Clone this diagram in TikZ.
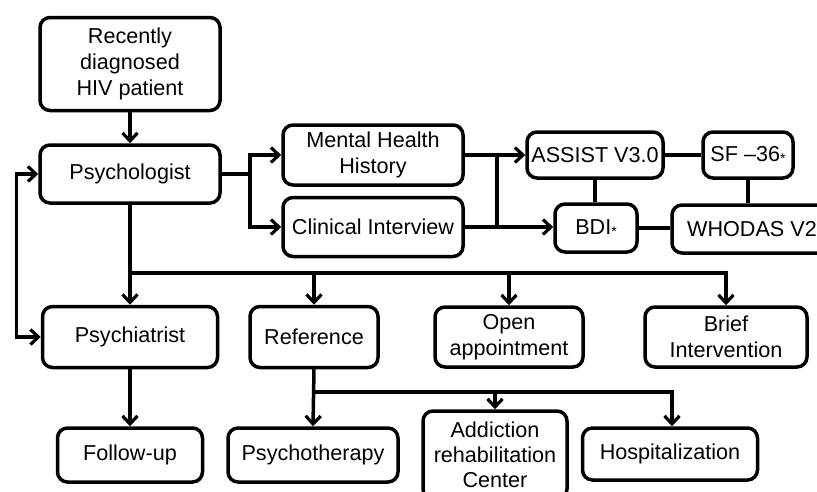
\documentclass[tikz,border=0pt]{standalone}
\usepackage{fontspec}
\setmainfont{Liberation Sans}
\usetikzlibrary{arrows.meta}
\newcommand{\smallast}{\raisebox{-1.5pt}{\fontsize{14}{14}\selectfont *}}
\begin{document}
\begin{tikzpicture}[x=1pt,y=-1pt,
  box/.style={draw,line width=3.5pt,rounded corners=10pt,align=center,inner sep=2pt,
    font=\fontsize{21.6}{26}\selectfont},
  conn/.style={line width=3.5pt},
  arr/.style={conn,-{Straight Barb[length=8pt,width=15pt,line width=3.2pt]}},
  darr/.style={conn,{Straight Barb[length=8pt,width=15pt,line width=3.2pt]}-{Straight Barb[length=8pt,width=15pt,line width=3.2pt]}}]
\useasboundingbox (0,0) rectangle (817,491);
\begin{scope}
\clip (0,0) rectangle (817,491);
\node[box,minimum width=180,minimum height=93] (rec) at (130,64) {Recently\\diagnosed\\HIV patient};
\node[box,minimum width=180,minimum height=58] (psy) at (130,174) {Psychologist};
\node[box,minimum width=180,minimum height=60] (mh) at (373,155) {Mental Health\\History};
\node[box,minimum width=180,minimum height=59] (ci) at (373,227) {Clinical Interview};
\node[box,minimum width=136,minimum height=46] (assist) at (595,155) {ASSIST V3.0};
\node[box,minimum width=90,minimum height=46] (sf) at (748,155) {SF –36\smallast};
\node[box,minimum width=82,minimum height=48] (bdi) at (596,228) {BDI\smallast};
\node[box,minimum width=160,minimum height=48] (whodas) at (752,229) {\raisebox{-9pt}{WHODAS V2}};
\node[box,minimum width=175,minimum height=61] (psych) at (130,337) {Psychiatrist};
\node[box,minimum width=128,minimum height=61] (ref) at (314,337) {Reference};
\node[box,minimum width=148,minimum height=60] (open) at (509,337) {Open\\appointment};
\node[box,minimum width=162,minimum height=60] (brief) at (726,337) {Brief\\Intervention};
\node[box,minimum width=145,minimum height=54] (follow) at (130,455) {Follow-up};
\node[box,minimum width=170,minimum height=54] (ther) at (313,455) {Psychotherapy};
\node[box,minimum width=144,minimum height=88,font=\fontsize{21.6}{25}\selectfont] (addict) at (495,455) {Addiction\\rehabilitation\\Center};
\node[box,minimum width=175,minimum height=52] (hosp) at (670,454) {Hospitalization};

\coordinate (j1) at (250,174);
\coordinate (j2) at (497,155);
\coordinate (j3) at (130,273);
\coordinate (j4) at (314,392);

\draw[arr] (rec.south) -- (psy.north);
\draw[conn] (psy.east) -- (j1);
\draw[arr] (j1) |- (mh.west);
\draw[arr] (j1) |- (ci.west);
\draw[arr] (mh.east) -- (assist.west);
\draw[arr] (ci.east) -- (ci.east -| bdi.west);
\draw[conn] (j2) -- (j2 |- ci.east);
\draw[conn] (assist.east) -- (sf.west);
\draw[conn] (assist.south) -- (assist.south |- bdi.north);
\draw[conn] (sf.south) -- (sf.south |- whodas.north);
\draw[conn] (bdi.east) -- (bdi.east -| whodas.west);
\draw[darr] (psy.west) -- ++(-22,0) |- (psych.west);
\draw[arr] (psy.south) -- (psych.north);
\draw[arr] (j3) -| (ref.north);
\draw[arr] (j3) -| (open.north);
\draw[arr] (j3) -| (brief.north);
\draw[arr] (psych.south) -- (follow.north);
\draw[arr] (ref.south) -- (ther.north);
\draw[arr] (j4) -| (addict.north);
\draw[arr] (j4) -| ([xshift=2pt]hosp.north);
\end{scope}
\end{tikzpicture}
\end{document}
